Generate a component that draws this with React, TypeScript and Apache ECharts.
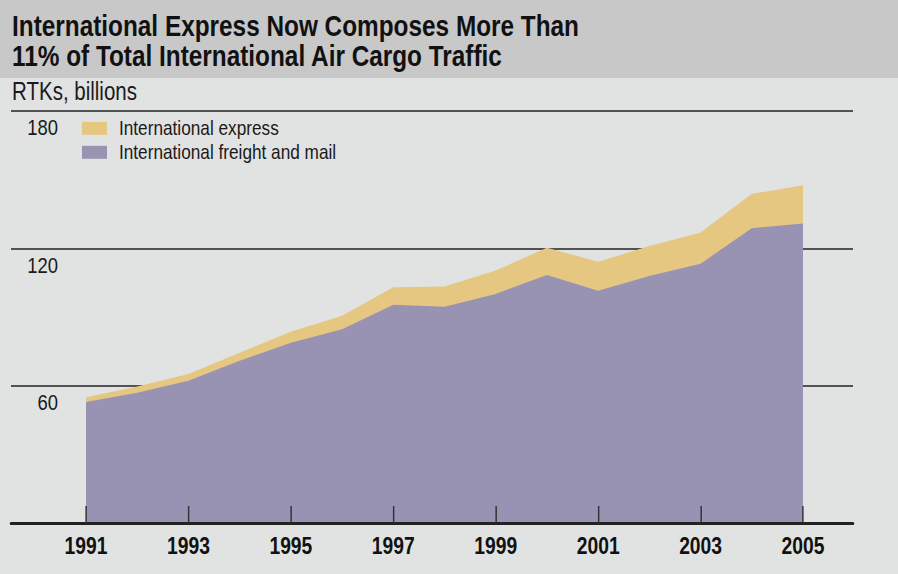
import React, { useEffect, useRef } from "react";
import * as echarts from "echarts";

const years = [1991, 1992, 1993, 1994, 1995, 1996, 1997, 1998, 1999, 2000, 2001, 2002, 2003, 2004, 2005];
const freightMail = [52.9, 56.9, 62.2, 70.9, 78.8, 84.6, 95.4, 94.5, 100.1, 108.4, 101.5, 107.9, 113.3, 128.8, 130.8];
const express = [2.0, 2.7, 2.9, 3.5, 4.8, 5.9, 7.6, 8.8, 10.2, 11.9, 12.6, 13.1, 13.6, 15.0, 16.8];
const tickYears = [1991, 1993, 1995, 1997, 1999, 2001, 2003, 2005];
const seriesNames = ["International express", "International freight and mail"];
const titleText = "International Express Now Composes More Than\n11% of Total International Air Cargo Traffic";
const unitText = "RTKs, billions";

// Condensed look: the chart is drawn wider and squeezed horizontally by CSS.
const OUT_W = 898;
const OUT_H = 574;
const S = 0.82;
const W = Math.round(OUT_W / S);
const SX = OUT_W / W;
const px = (x: number) => x / SX; // reference x -> chart x

const FONT = "'Liberation Sans', Arial, Helvetica, sans-serif";

export default function App() {
  const ref = useRef<HTMLDivElement>(null);
  useEffect(() => {
    if (!ref.current) return;
    const chart = echarts.init(ref.current, undefined, { renderer: "svg" });
    chart.setOption({
      animation: false,
      backgroundColor: "#e1e3e2",
      graphic: [
        { type: "rect", left: 0, top: 0, z: -10, silent: true, shape: { width: W + 10, height: 78 }, style: { fill: "#c8c8c8" } },
      ],
      title: [
        {
          text: titleText,
          left: px(12),
          top: 10.8,
          padding: 0,
          textStyle: { fontFamily: FONT, fontSize: 29.7, fontWeight: "bold", color: "#111", lineHeight: 30 },
        },
        {
          text: unitText,
          left: px(12),
          top: 79,
          padding: 0,
          textStyle: { fontFamily: FONT, fontSize: 25, fontWeight: "normal", color: "#1a1a1a", lineHeight: 24 },
        },
      ],
      legend: {
        orient: "vertical",
        left: px(82),
        top: 116.3,
        padding: 0,
        itemWidth: px(107) - px(82),
        itemHeight: 13,
        itemGap: 0,
        icon: "rect",
        data: seriesNames,
        textStyle: {
          fontFamily: FONT,
          fontSize: 21,
          color: "#1a1a1a",
          lineHeight: 20,
          padding: [0, 0, 4, px(119) - px(107) - 5],
        },
      },
      grid: { left: px(11), right: px(OUT_W) - px(853), top: 111, bottom: 51, containLabel: false },
      xAxis: {
        type: "value",
        min: 1989.5355,
        max: 2005.976,
        z: 10,
        splitLine: { show: false },
        axisLine: { show: true, lineStyle: { color: "#222", width: 3 } },
        axisTick: { show: true, inside: true, length: 17, customValues: tickYears, lineStyle: { color: "#333", width: 1.8 } },
        axisLabel: {
          customValues: tickYears,
          fontFamily: FONT,
          fontSize: 23.5,
          lineHeight: 24,
          fontWeight: "bold",
          color: "#111",
          margin: 11.5,
          formatter: (v: number) => String(Math.round(v)),
        },
      },
      yAxis: {
        type: "value",
        min: 0,
        max: 180,
        interval: 60,
        axisLine: { show: false },
        axisTick: { show: false },
        splitLine: { show: true, lineStyle: { color: "#222", width: 1.5 } },
        axisLabel: {
          inside: true,
          align: "right",
          verticalAlign: "top",
          lineHeight: 32,
          margin: px(58) - px(11),
          fontFamily: FONT,
          fontSize: 22.5,
          color: "#1a1a1a",
          formatter: (v: number) => (v === 0 ? "" : String(v)),
        },
      },
      series: [
        {
          name: seriesNames[0],
          type: "line",
          symbol: "none",
          lineStyle: { width: 0 },
          itemStyle: { color: "#e5c781" },
          areaStyle: { color: "#e5c781", opacity: 1 },
          data: years.map((y, i) => [y, +(freightMail[i] + express[i]).toFixed(2)]),
        },
        {
          name: seriesNames[1],
          type: "line",
          symbol: "none",
          lineStyle: { width: 0 },
          itemStyle: { color: "#9893b2" },
          areaStyle: { color: "#9893b2", opacity: 1 },
          data: years.map((y, i) => [y, freightMail[i]]),
        },
      ],
    });
    return () => chart.dispose();
  }, []);
  return (
    <div style={{ position: "fixed", left: 0, top: 0, width: OUT_W, height: OUT_H, overflow: "hidden", background: "#e1e3e2" }}>
      <div
        ref={ref}
        style={{ width: W, height: OUT_H, transform: `scaleX(${SX})`, transformOrigin: "0 0" }}
      />
    </div>
  );
}
